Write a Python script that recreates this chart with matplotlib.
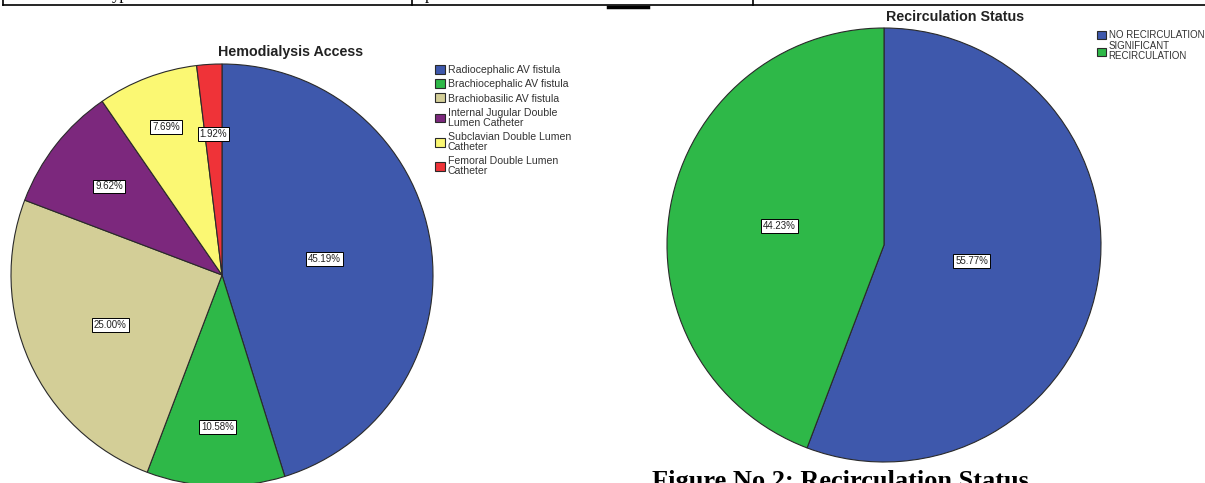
import numpy as np
import matplotlib
matplotlib.use('Agg')
import matplotlib.pyplot as plt

plt.rcParams['font.family'] = ['Liberation Sans', 'DejaVu Sans']

W, H = 1205, 483

# Hemodialysis access (%)
access_labels = ['Radiocephalic AV fistula', 'Brachiocephalic AV fistula', 'Brachiobasilic AV fistula',
                 'Internal Jugular Double\nLumen Catheter', 'Subclavian Double Lumen\nCatheter',
                 'Femoral Double Lumen\nCatheter']
access_pct = [45.19, 10.58, 25.00, 9.62, 7.69, 1.92]
access_colors = ['#3E58AC', '#2EB848', '#D3CE97', '#7C287D', '#FBF873', '#EF3338']
access_lbl_r = [0.49, 0.72, 0.58, 0.68, 0.75, 0.67]  # where SPSS put the % boxes

# Recirculation status (%)
recirc_labels = ['NO RECIRCULATION', 'SIGNIFICANT\nRECIRCULATION']
recirc_pct = [55.77, 44.23]
recirc_colors = ['#3E58AC', '#2EB848']
recirc_lbl_r = [0.41, 0.49]


def px_axes(fig, cx, cy, r):
    # axes box in pixels (from top-left) -> figure fraction
    return fig.add_axes([(cx - r) / W, (H - (cy + r)) / H, 2 * r / W, 2 * r / H])


def draw_pie(ax, vals, colors, lbl_r):
    wedges, _ = ax.pie(vals, colors=colors, startangle=90, counterclock=False, radius=1,
                       wedgeprops=dict(edgecolor='#2a2a2a', linewidth=0.8))
    # percentage boxes
    cum = np.cumsum([0] + list(vals))
    for i, v in enumerate(vals):
        mid = np.deg2rad(90 - (cum[i] + v / 2) * 3.6)
        rr = lbl_r[i]
        ax.text(rr * np.cos(mid), rr * np.sin(mid), '%.2f%%' % v, ha='center', va='center',
                fontsize=7, color='#222222',
                bbox=dict(boxstyle='square,pad=0.2', fc='white', ec='black', lw=0.7))
    ax.set_xlim(-1, 1)
    ax.set_ylim(-1, 1)
    ax.set_aspect('auto')
    ax.axis('off')
    return wedges


fig = plt.figure(figsize=(W / 100, H / 100), dpi=100)

ax1 = px_axes(fig, 222, 275, 211)
w1 = draw_pie(ax1, access_pct, access_colors, access_lbl_r)
ax2 = px_axes(fig, 884, 245, 217)
w2 = draw_pie(ax2, recirc_pct, recirc_colors, recirc_lbl_r)

fig.text(291 / W, 1 - 52 / H, 'Hemodialysis Access', ha='center', va='center',
         fontsize=10.3, fontweight='bold', color='#222222')
fig.text(955 / W, 1 - 17 / H, 'Recirculation Status', ha='center', va='center',
         fontsize=10.3, fontweight='bold', color='#222222')

leg1 = fig.legend(w1, access_labels, loc='upper left', bbox_to_anchor=(435 / W, 1 - 65 / H),
                  frameon=False, fontsize=7.6, handlelength=0.9, handleheight=0.9,
                  handletextpad=0.3, labelspacing=0.4, borderaxespad=0, borderpad=0)
leg2 = fig.legend(w2, recirc_labels, loc='upper left', bbox_to_anchor=(1097 / W, 1 - 30 / H),
                  frameon=False, fontsize=7, handlelength=0.9, handleheight=0.9,
                  handletextpad=0.3, labelspacing=0.1, borderaxespad=0, borderpad=0)
for leg in (leg1, leg2):
    for t in leg.get_texts():
        t.set_linespacing(1.0)
        t.set_color('#333333')

# bits of the surrounding document (table border, cut-off text, caption)
fig.add_artist(plt.Line2D([3 / W, 1], [1 - 5 / H] * 2, color='black', lw=1.2))
for x in (3, 412, 753):
    fig.add_artist(plt.Line2D([x / W] * 2, [1 - 5 / H, 1], color='black', lw=1.2))
fig.add_artist(plt.Line2D([608 / W, 648 / W], [1 - 6.5 / H] * 2, color='black', lw=2.5))
fig.text(112 / W, 1 + 1 / H, 'ypical', fontsize=12, family='Liberation Serif', va='baseline')
fig.text(425 / W, 1 + 1 / H, 'p', fontsize=12, family='Liberation Serif', va='baseline')
fig.text(652 / W, 1 - 488 / H, 'Figure No 2: Recirculation Status', fontsize=19,
         family='Liberation Serif', fontweight='bold', va='baseline')

fig.savefig('out.png', dpi=100)
